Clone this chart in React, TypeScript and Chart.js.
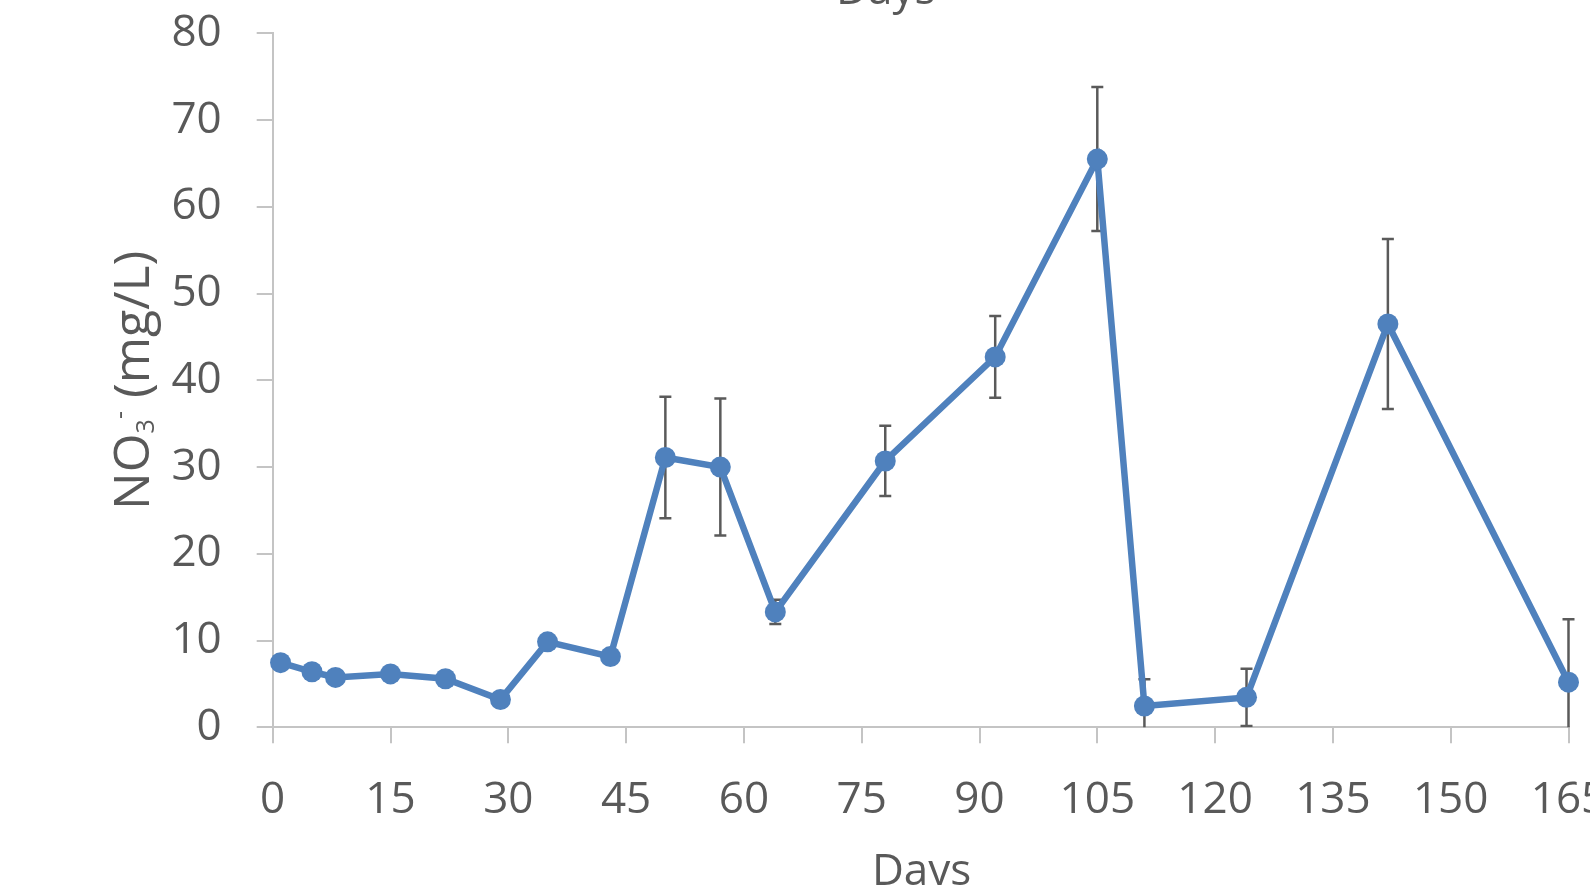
import { useEffect, useRef } from "react";
import { Chart, registerables } from "chart.js";

Chart.register(...registerables);

// Sampling days and nitrate concentration (mean ± SD)
const days = [1, 5, 8, 15, 22, 29, 35, 43, 50, 57, 64, 78, 92, 105, 111, 124, 142, 165];
const nitrate = [7.45, 6.4, 5.75, 6.15, 5.6, 3.2, 9.85, 8.15, 31.1, 30.0, 13.3, 30.7, 42.7, 65.5, 2.45, 3.45, 46.5, 5.2];
const nitrateSd = [0.6, 0.5, 0.5, 0.6, 0.5, 0.6, 0.7, 0.6, 7.0, 7.9, 1.4, 4.05, 4.7, 8.3, 3.1, 3.3, 9.8, 7.25];

// Axis ranges and tick spacing
const xRange = [0, 165];
const xStep = 15;
const yRange = [0, 80];
const yStep = 10;

const xTitle = "Days";
const yTitleParts = [
  { text: "NO", scale: 1, shift: 0 },
  { text: "3", scale: 0.5, shift: 0.1 },
  { text: "-", scale: 0.5, shift: -0.42 },
  { text: " (mg/L)", scale: 1, shift: 0 },
];

const FONT = "'Open Sans', 'DejaVu Sans', sans-serif";
const TEXT = "#595959";
const AXIS = "#c4c4c4";
const BLUE = "#4f81bd";

const errorBars = {
  id: "errorBars",
  beforeDatasetsDraw(chart: any) {
    const { ctx, chartArea, scales } = chart;
    const x = scales.x;
    const y = scales.y;
    ctx.save();
    ctx.beginPath();
    ctx.rect(chartArea.left - 20, chartArea.top - 20, chartArea.width + 40, chartArea.height + 20);
    ctx.clip();
    ctx.strokeStyle = "#5a5a5a";
    ctx.lineWidth = 2.5;
    const cap = 6;
    days.forEach((d, i) => {
      const px = x.getPixelForValue(d);
      const top = y.getPixelForValue(nitrate[i] + nitrateSd[i]);
      const bot = y.getPixelForValue(nitrate[i] - nitrateSd[i]);
      ctx.beginPath();
      ctx.moveTo(px, top);
      ctx.lineTo(px, bot);
      ctx.moveTo(px - cap, top);
      ctx.lineTo(px + cap, top);
      ctx.moveTo(px - cap, bot);
      ctx.lineTo(px + cap, bot);
      ctx.stroke();
    });
    ctx.restore();
  },
};

const axisTitles = {
  id: "axisTitles",
  afterDraw(chart: any) {
    const { ctx, chartArea } = chart;
    ctx.save();
    ctx.fillStyle = TEXT;
    ctx.textAlign = "center";
    ctx.textBaseline = "alphabetic";
    ctx.font = `44px ${FONT}`;
    // title of the panel above, partly outside the view
    ctx.fillText(xTitle, chartArea.left + 613, 4);
    // x axis title
    const midX = (chartArea.left + chartArea.right) / 2;
    ctx.fillText(xTitle, midX + 1, chartArea.bottom + 157.5);

    // rotated y axis title with sub/superscript
    const base = 50;
    ctx.textAlign = "left";
    let total = 0;
    const widths = yTitleParts.map((p) => {
      ctx.font = `${base * p.scale}px ${FONT}`;
      const w = ctx.measureText(p.text).width;
      total += w;
      return w;
    });
    const midY = (chartArea.top + chartArea.bottom) / 2;
    ctx.translate(149, midY);
    ctx.rotate(-Math.PI / 2);
    let pos = -total / 2;
    yTitleParts.forEach((p, i) => {
      ctx.font = `${base * p.scale}px ${FONT}`;
      ctx.fillText(p.text, pos, p.shift * base);
      pos += widths[i];
    });
    ctx.restore();
  },
};

export default function App() {
  const ref = useRef<HTMLCanvasElement>(null);

  useEffect(() => {
    if (!ref.current) return;
    const chart = new Chart(ref.current, {
      type: "line",
      data: {
        datasets: [
          {
            data: days.map((d, i) => ({ x: d, y: nitrate[i] })),
            borderColor: BLUE,
            backgroundColor: BLUE,
            borderWidth: 6.5,
            pointRadius: 10.5,
            pointBorderWidth: 0,
            pointBackgroundColor: BLUE,
            tension: 0,
            clip: false as any,
          },
        ],
      },
      options: {
        responsive: false,
        animation: false,
        layout: { padding: { top: 33.3, right: 131.5, left: 0, bottom: 0 } },
        plugins: {
          legend: { display: false },
          tooltip: { enabled: false },
        },
        scales: {
          x: {
            type: "linear",
            min: xRange[0],
            max: xRange[1],
            ticks: {
              stepSize: xStep,
              color: TEXT,
              font: { size: 44, family: FONT },
              padding: 31,
              maxRotation: 0,
              autoSkip: false,
            },
            grid: {
              display: true,
              drawOnChartArea: false,
              drawTicks: true,
              tickLength: 16,
              color: AXIS,
              lineWidth: 2,
            },
            border: { display: true, color: AXIS, width: 2 },
            afterFit: (s: any) => {
              s.height = 157.7;
            },
          },
          y: {
            min: yRange[0],
            max: yRange[1],
            ticks: {
              stepSize: yStep,
              color: TEXT,
              font: { size: 44, family: FONT },
              padding: 35,
            },
            grid: {
              display: true,
              drawOnChartArea: false,
              drawTicks: true,
              tickLength: 16,
              color: AXIS,
              lineWidth: 2,
            },
            border: { display: true, color: AXIS, width: 2 },
            afterFit: (s: any) => {
              s.width = 272.7;
              s.paddingTop = 0;
              s.paddingBottom = 0;
            },
          },
        },
      },
      plugins: [errorBars, axisTitles],
    });
    return () => chart.destroy();
  }, []);

  return (
    <div
      style={{
        position: "fixed",
        left: 0,
        top: 0,
        width: 1590,
        height: 885,
        overflow: "hidden",
        background: "#ffffff",
      }}
    >
      <canvas ref={ref} width={1700} height={885} style={{ display: "block", width: 1700, height: 885 }} />
    </div>
  );
}
